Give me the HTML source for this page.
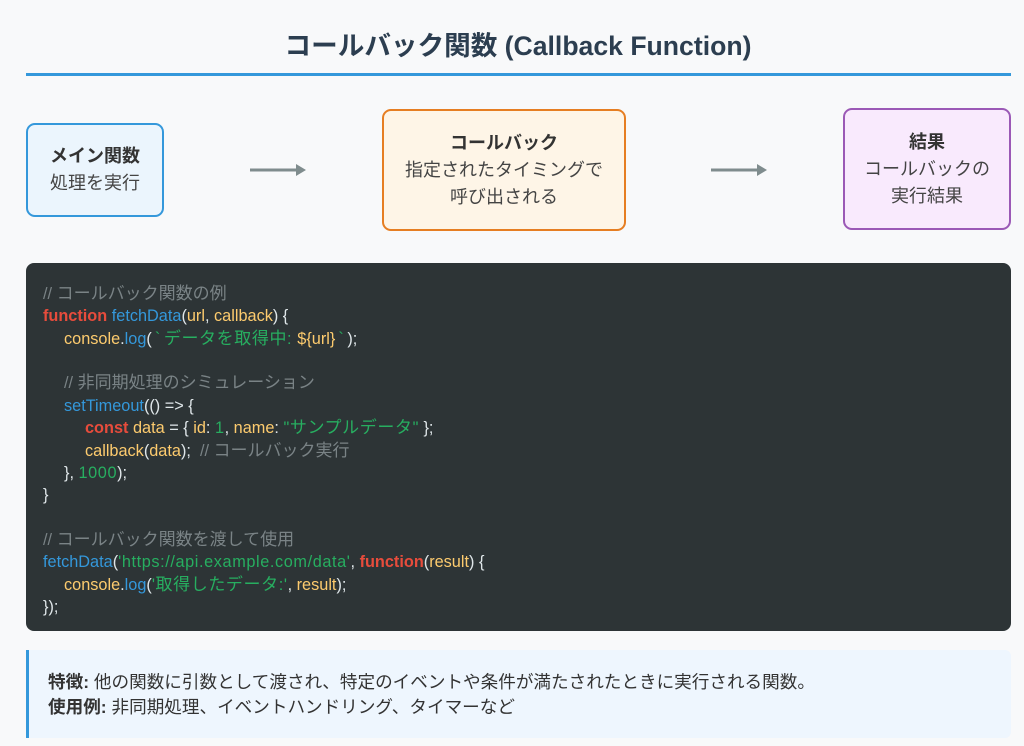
<!DOCTYPE html>
<html>
<head>
<meta charset="utf-8">
<style>
  html, body { margin:0; padding:0; }
  body {
    width:1024px; height:746px; overflow:hidden; position:relative;
    background:#f8f9fa;
    font-family:"Liberation Sans","Noto Sans CJK JP",sans-serif;
  }
  .title {
    position:absolute; left:6px; top:27px; width:1024px; text-align:center;
    font-size:26.6px; font-weight:bold; color:#2c3e50; line-height:38px;
  }
  .rule { position:absolute; left:26px; top:73px; width:985px; height:3px; background:#3498db; }
  .box {
    position:absolute; box-sizing:border-box; border-radius:9px; border:2px solid;
    text-align:center; font-size:18px; line-height:27px; color:#444;
    display:flex; flex-direction:column; justify-content:center;
  }
  .box b { color:#333; }
  .b1 { left:26px; top:123px; width:138px; height:94px; border-color:#3498db; background:#ebf5fd; }
  .b2 { left:382px; top:109px; width:244px; height:122px; border-color:#e67e22; background:#fef5e7; }
  .b3 { left:843px; top:108px; width:168px; height:122px; border-color:#9b59b6; background:#f9eafd; }
  .arrow { position:absolute; }
  .code {
    position:absolute; left:26px; top:263px; width:985px; height:368px; box-sizing:border-box;
    background:#2d3436; border-radius:8px; padding:20px 0 0 17px;
    font-size:16.3px; line-height:22.36px; color:#dfe6e9; white-space:pre;
  }
  .code div { height:22.36px; }
  .i1 { padding-left:21px; }
  .i2 { padding-left:42px; }
  .cm { color:#7a8386; }
  .kw { color:#e74c3c; font-weight:bold; }
  .fn { color:#3498db; }
  .ar { color:#fdcb6e; }
  .st { color:#27ae60; letter-spacing:0.6px; }
  .j { font-size:17px; }
  .bt { margin:0 3px; }
  .info {
    position:absolute; left:26px; top:650px; width:985px; height:88px; box-sizing:border-box;
    background:#eef6fe; border-left:3px solid #3498db; border-radius:0 6px 6px 0;
    padding:20px 0 0 19px; font-size:17.6px; line-height:25px; color:#333;
  }
</style>
</head>
<body>
  <div class="title">コールバック関数 (Callback Function)</div>
  <div class="rule"></div>

  <div class="box b1"><b>メイン関数</b><span>処理を実行</span></div>
  <svg class="arrow" style="left:248px;top:160px" width="62" height="20">
    <line x1="2" y1="10" x2="50" y2="10" stroke="#7f8c8d" stroke-width="3"/>
    <polygon points="48,4 58,10 48,16" fill="#7f8c8d"/>
  </svg>
  <div class="box b2"><b>コールバック</b><span>指定されたタイミングで</span><span>呼び出される</span></div>
  <svg class="arrow" style="left:709px;top:160px" width="62" height="20">
    <line x1="2" y1="10" x2="50" y2="10" stroke="#7f8c8d" stroke-width="3"/>
    <polygon points="48,4 58,10 48,16" fill="#7f8c8d"/>
  </svg>
  <div class="box b3"><b>結果</b><span>コールバックの</span><span>実行結果</span></div>

  <div class="code"><div class="cm">// <span class="j">コールバック関数の例</span></div><div><span class="kw">function</span> <span class="fn">fetchData</span>(<span class="ar">url</span>, <span class="ar">callback</span>) {</div><div class="i1"><span class="ar">console</span>.<span class="fn">log</span>(<span class="st"><span class="bt">`</span><span class="j">データを取得中</span>: </span><span class="ar">${url}</span><span class="st"><span class="bt">`</span></span>);</div><div></div><div class="i1 cm">// <span class="j">非同期処理のシミュレーション</span></div><div class="i1"><span class="fn">setTimeout</span>(() =&gt; {</div><div class="i2"><span class="kw">const</span> <span class="ar">data</span> = { <span class="ar">id</span>: <span class="st">1</span>, <span class="ar">name</span>: <span class="st">"<span class="j">サンプルデータ</span>"</span> };</div><div class="i2"><span class="ar">callback</span>(<span class="ar">data</span>);  <span class="cm">// <span class="j">コールバック実行</span></span></div><div class="i1">}, <span class="st">1000</span>);</div><div>}</div><div></div><div class="cm">// <span class="j">コールバック関数を渡して使用</span></div><div><span class="fn">fetchData</span>(<span class="st">'https://api.example.com/data'</span>, <span class="kw">function</span>(<span class="ar">result</span>) {</div><div class="i1"><span class="ar">console</span>.<span class="fn">log</span>(<span class="st">'<span class="j">取得したデータ</span>:'</span>, <span class="ar">result</span>);</div><div>});</div></div>

  <div class="info">
    <div><b>特徴:</b> 他の関数に引数として渡され、特定のイベントや条件が満たされたときに実行される関数。</div>
    <div><b>使用例:</b> 非同期処理、イベントハンドリング、タイマーなど</div>
  </div>
</body>
</html>
